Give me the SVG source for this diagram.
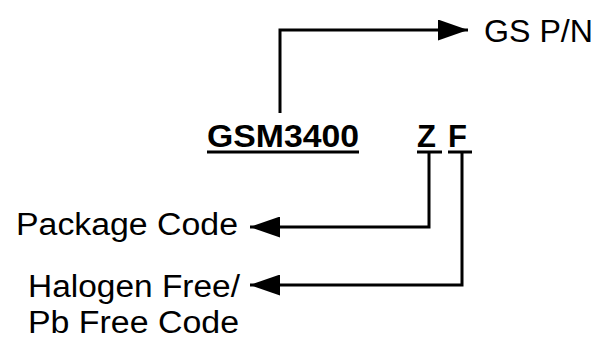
<svg xmlns="http://www.w3.org/2000/svg" width="598" height="341" viewBox="0 0 598 341">
<style>
.t{font-family:"Liberation Sans",Arial,sans-serif;font-size:31px;fill:#000}
.b{font-weight:bold}
.c{fill:none;stroke:#000;stroke-width:3}
.u{stroke:#000;stroke-width:3}
</style>
<defs>
<marker id="ah" markerWidth="10" markerHeight="7" refX="10" refY="3.5" orient="auto" markerUnits="strokeWidth" viewBox="0 0 10 7">
<path d="M0,0 L10,3.5 L0,7 z" fill="#000"/>
</marker>
</defs>
<rect width="598" height="341" fill="#fff"/>
<g id="connectors">
<path class="c" d="M280,113 V30 H468" marker-end="url(#ah)"/>
<path class="c" d="M429,152 V227 H250" marker-end="url(#ah)"/>
<path class="c" d="M462,152 V285 H250" marker-end="url(#ah)"/>
</g>
<g id="gsm">
<text class="t b" x="207" y="147" textLength="152" lengthAdjust="spacingAndGlyphs">GSM3400</text>
<line class="u" x1="207" y1="152" x2="359" y2="152"/>
</g>
<g id="z">
<text class="t b" x="417" y="147">Z</text>
<line class="u" x1="417" y1="152" x2="442" y2="152"/>
</g>
<g id="f">
<text class="t b" x="448" y="147">F</text>
<line class="u" x1="448" y1="152" x2="472" y2="152"/>
</g>
<g id="gspn">
<text class="t" x="484" y="42" textLength="109" lengthAdjust="spacingAndGlyphs">GS P/N</text>
</g>
<g id="package">
<text class="t" x="16" y="235" textLength="222" lengthAdjust="spacingAndGlyphs">Package Code</text>
</g>
<g id="halogen">
<text class="t" x="28" y="297" textLength="212" lengthAdjust="spacingAndGlyphs">Halogen Free/</text>
<text class="t" x="28" y="333" textLength="211" lengthAdjust="spacingAndGlyphs">Pb Free Code</text>
</g>
</svg>
